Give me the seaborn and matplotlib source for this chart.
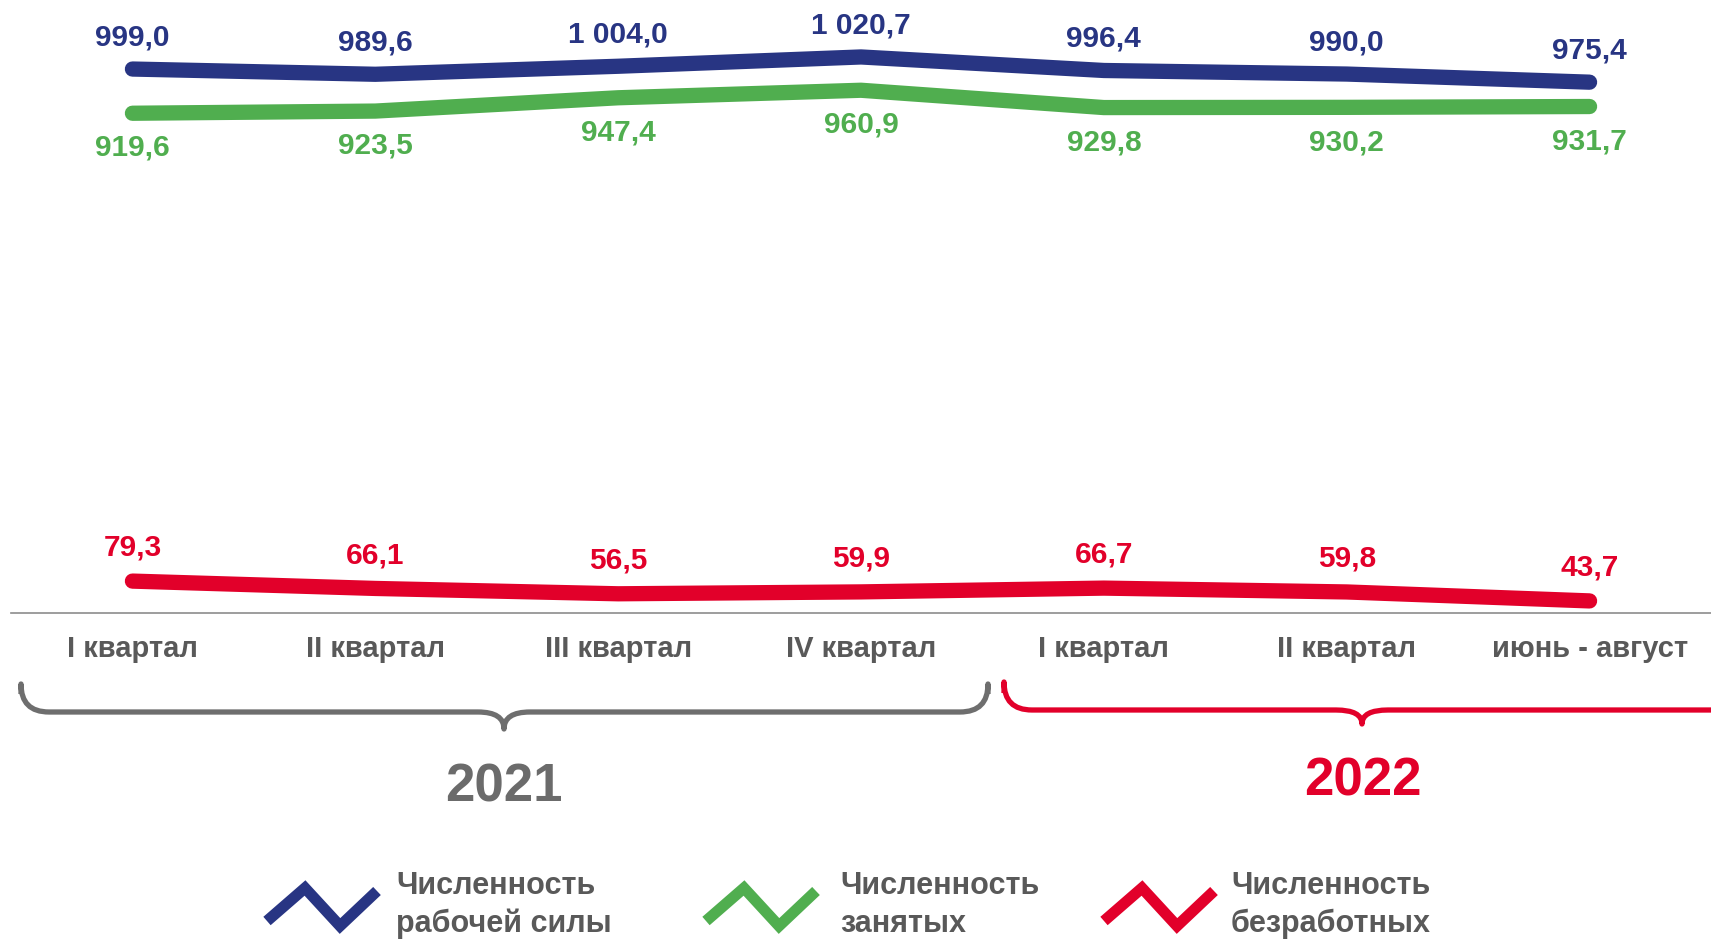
import numpy as np
import pandas as pd
import matplotlib.pyplot as plt
import seaborn as sns
from matplotlib.path import Path
from matplotlib.patches import PathPatch

categories = ["I квартал", "II квартал", "III квартал", "IV квартал",
              "I квартал", "II квартал", "июнь - август"]
labor_force = [999.0, 989.6, 1004.0, 1020.7, 996.4, 990.0, 975.4]
employed = [919.6, 923.5, 947.4, 960.9, 929.8, 930.2, 931.7]
unemployed = [79.3, 66.1, 56.5, 59.9, 66.7, 59.8, 43.7]
series_names = ["Численность рабочей силы", "Численность занятых", "Численность безработных"]
legend_lines = [("Численность", "рабочей силы"), ("Численность", "занятых"),
                ("Численность", "безработных")]
years = ["2021", "2022"]

BLUE = "#283583"
GREEN = "#50AE4F"
RED = "#E2002A"
GREY_TXT = "#595959"
GREY_BRACE = "#6E6E6E"
colors = [BLUE, GREEN, RED]

sns.set_style("white")
plt.rcParams["font.family"] = ["Liberation Sans", "DejaVu Sans"]
plt.rcParams["font.weight"] = "bold"


def fmt(v):
    s = f"{v:,.1f}".replace(",", " ").replace(".", ",")
    return s


df = pd.DataFrame({
    "pos": list(range(7)) * 3,
    "value": labor_force + employed + unemployed,
    "series": [n for n in series_names for _ in range(7)],
})

W, H = 1711, 939
fig = plt.figure(figsize=(W / 100, H / 100), dpi=100)
ax = fig.add_axes([11 / W, (H - 613) / H, 1 - 11 / W, 613 / H])

sns.lineplot(data=df, x="pos", y="value", hue="series", palette=colors,
             linewidth=11, ax=ax, legend=False,
             solid_capstyle="round", solid_joinstyle="round")

ax.set_xlim(-0.5, 6.5)
ax.set_ylim(22, 1123)
for s in ["left", "top", "right"]:
    ax.spines[s].set_visible(False)
ax.spines["bottom"].set_color("#8C8C8C")
ax.spines["bottom"].set_linewidth(1.2)
ax.set_yticks([])
ax.set_xlabel("")
ax.set_ylabel("")
ax.set_xticks(range(7))
ax.set_xticklabels(categories, fontsize=21, color=GREY_TXT, fontweight="bold")
ax.tick_params(axis="x", which="major", length=0, pad=15.5)
ax.set_xticks(np.arange(-0.5, 6.6, 1), minor=True)
ax.tick_params(axis="x", which="minor", length=6.5, width=1, color="#8C8C8C")

# value labels
for vals, col, off in [(labor_force, BLUE, 23), (employed, GREEN, -25), (unemployed, RED, 24)]:
    for i, v in enumerate(vals):
        ax.annotate(fmt(v), (i, v), xytext=(0, off), textcoords="offset points",
                    ha="center", va="center", fontsize=21.5, color=col,
                    fontweight="bold")

# overlay in pixel coordinates for braces, years and legend
ov = fig.add_axes([0, 0, 1, 1], zorder=-1)
ov.set_xlim(0, W)
ov.set_ylim(H, 0)
ov.axis("off")


def brace(x0, x1, xc, ytop, ymid, ytip, color, r=28, rt=26):
    verts = [
        (x0, ytop), (x0, ymid - r), (x0, ymid), (x0 + r, ymid),
        (xc - rt, ymid), (xc, ymid), (xc, ytip),
        (xc, ymid), (xc + rt, ymid),
        (x1 - r, ymid), (x1, ymid), (x1, ymid - r), (x1, ytop),
    ]
    codes = [Path.MOVETO, Path.LINETO, Path.CURVE3, Path.CURVE3,
             Path.LINETO, Path.CURVE3, Path.CURVE3,
             Path.CURVE3, Path.CURVE3,
             Path.LINETO, Path.CURVE3, Path.CURVE3, Path.LINETO]
    ov.add_patch(PathPatch(Path(verts, codes), fill=False, edgecolor=color,
                           linewidth=3.8, capstyle="butt", joinstyle="round"))


brace(21, 988, 504, 694, 712, 729, GREY_BRACE)
brace(1004, 1740, 1362, 693, 710, 724, RED)
ov.text(504, 788, years[0], ha="center", va="center", fontsize=38,
        color="#6B6B6B", fontweight="bold")
ov.text(1363, 781, years[1], ha="center", va="center", fontsize=38,
        color=RED, fontweight="bold")

# legend
zig = np.array([(0, 33), (38, 0), (73, 38), (110, 3)])
for (x0, tx), col, (l1, l2) in zip([(267, 396), (706, 840), (1104, 1231)], colors, legend_lines):
    ov.plot(zig[:, 0] + x0, zig[:, 1] + 888, color=col, linewidth=8,
            solid_capstyle="butt", solid_joinstyle="miter")
    ov.text(tx, 886, l1, ha="left", va="center", fontsize=22, color=GREY_TXT,
            fontweight="bold")
    ov.text(tx, 924, l2, ha="left", va="center", fontsize=22, color=GREY_TXT,
            fontweight="bold")

fig.savefig("out.png", dpi=100)
